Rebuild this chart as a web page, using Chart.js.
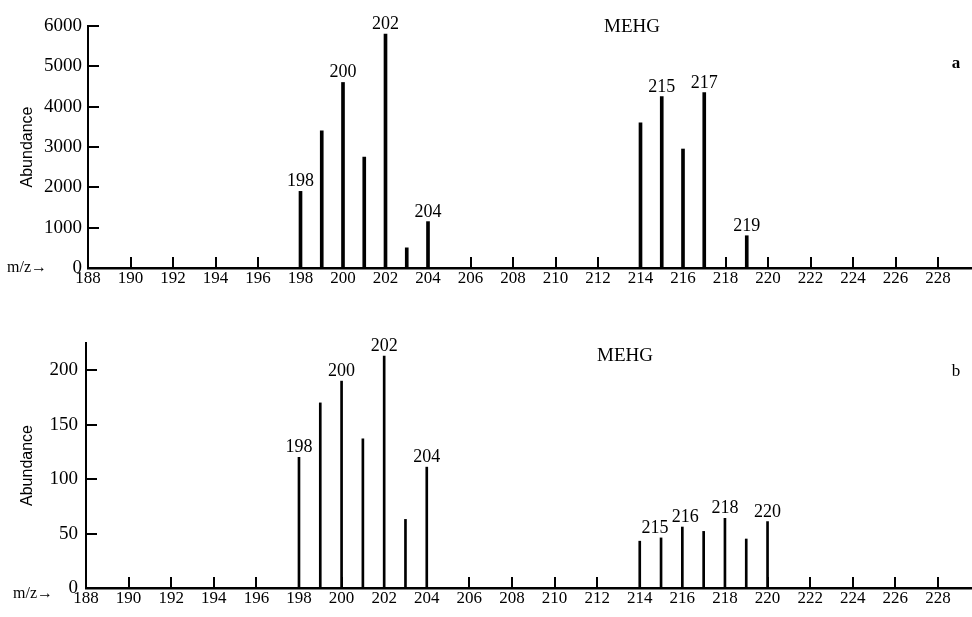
<!DOCTYPE html>
<html><head><meta charset="utf-8">
<script src="https://cdn.jsdelivr.net/npm/chart.js@4.4.0/dist/chart.umd.min.js"></script>
<style>
html,body{margin:0;padding:0;background:#fff;}
#wrap{position:relative;width:972px;height:617px;overflow:hidden;background:#fff;}
canvas{position:absolute;left:0;}
#c1{top:0;} #c2{top:300px;}
</style></head><body>
<div id="wrap"><canvas id="c1" width="972" height="300"></canvas><canvas id="c2" width="972" height="317"></canvas></div>
<script>
// ---- data ----
const mzTicks = [188,190,192,194,196,198,200,202,204,206,208,210,212,214,216,218,220,222,224,226,228];

const mzA = [198,199,200,201,202,203,204,214,215,216,217,219];
const abundanceA = [1900,3400,4600,2750,5800,500,1150,3600,4250,2950,4350,800];
const labeledA = [198,200,202,204,215,217,219];
const yTicksA = [0,1000,2000,3000,4000,5000,6000];

const mzB = [198,199,200,201,202,203,204,214,215,216,217,218,219,220];
const abundanceB = [120,170,190,137,213,63,111,43,46,56,52,64,45,61];
const labeledB = [198,200,202,204,215,216,218,220];
const yTicksB = [0,50,100,150,200];

const SERIF = '"Liberation Serif", "Times New Roman", serif';
const SANS = '"Liberation Sans", Arial, sans-serif';

const deco = {
  id: 'deco',
  afterDatasetsDraw(chart, args, o) {
    const {ctx, chartArea: ca, scales: {x, y}} = chart;
    ctx.save();
    ctx.strokeStyle = '#000'; ctx.fillStyle = '#000'; ctx.lineWidth = 2;
    ctx.beginPath();
    mzTicks.forEach(v => {
      if (v === mzTicks[0]) return;
      const px = Math.round(x.getPixelForValue(v));
      ctx.moveTo(px, ca.bottom); ctx.lineTo(px, ca.bottom - 11);
    });
    o.yMarks.forEach(v => {
      if (v === 0) return;
      const py = Math.round(y.getPixelForValue(v));
      ctx.moveTo(ca.left, py); ctx.lineTo(ca.left + 11, py);
    });
    ctx.stroke();
    // peak labels
    ctx.font = '18px ' + SERIF; ctx.textAlign = 'center'; ctx.textBaseline = 'alphabetic';
    const meta = chart.getDatasetMeta(0);
    const data = chart.data.datasets[0].data;
    o.labeled.forEach(v => {
      const i = data.findIndex(d => d.x === v);
      const el = meta.data[i];
      ctx.fillText(String(v), el.x + ((o.dx && o.dx[v]) || 0), el.y - 5);
    });
    // compound name
    ctx.font = '19px ' + SERIF; ctx.textBaseline = 'middle';
    ctx.fillText('MEHG', o.nameX, o.nameY);
    ctx.font = o.panelFont + ' ' + SERIF;
    ctx.fillText(o.panel, o.panelX, o.panelY);
    ctx.font = '16px ' + SERIF; ctx.textAlign = 'left';
    ctx.fillText('m/z\u2192', o.mzX, ca.bottom + o.mzDy);
    ctx.restore();
  }
};

function makeChart(id, mz, vals, yTicks, ymax, labeled, thick, opts) {
  return new Chart(document.getElementById(id), {
    type: 'bar',
    data: { datasets: [{ data: mz.map((m, i) => ({x: m, y: vals[i]})), backgroundColor: '#000', borderWidth: 0, barThickness: thick }] },
    plugins: [deco],
    options: {
      responsive: false, animation: false, devicePixelRatio: 1, events: [],
      layout: { padding: { top: opts.padTop, left: 0, right: 0, bottom: 0 } },
      plugins: {
        legend: { display: false }, tooltip: { enabled: false },
        deco: Object.assign({ yMarks: yTicks, labeled: labeled }, opts.deco)
      },
      scales: {
        x: {
          type: 'linear', min: 188, max: 229.6, offset: false,
          grid: { display: false, drawTicks: false },
          border: { display: true, color: '#000', width: 2.5 },
          ticks: { color: '#000', font: { family: SERIF, size: 17 }, padding: 0, maxRotation: 0, autoSkip: false, includeBounds: false, callback: v => String(v) },
          afterBuildTicks: s => { s.ticks = mzTicks.map(v => ({ value: v })); },
          afterFit: s => { s.height = opts.xH; }
        },
        y: {
          min: 0, max: ymax,
          grid: { display: false, drawTicks: false },
          border: { display: true, color: '#000', width: 2 },
          ticks: { color: '#000', font: { family: SERIF, size: 19 }, padding: opts.yPad, includeBounds: false, callback: v => String(v) },
          afterBuildTicks: s => { s.ticks = yTicks.map(v => ({ value: v })); },
          title: { display: true, text: 'Abundance', color: '#000', font: { family: SANS, size: 16 }, padding: { top: 18, bottom: 0 } },
          afterFit: s => { s.width = opts.yW; }
        }
      }
    }
  });
}

makeChart('c1', mzA, abundanceA, yTicksA, 6000, labeledA, 3, {
  padTop: 26, xH: 32, yW: 88, yPad: 6,
  deco: { nameX: 632, nameY: 27, panel: 'a', panelFont: 'bold 17px', panelX: 956, panelY: 64, mzX: 7, mzDy: 0 }
});
makeChart('c2', mzB, abundanceB, yTicksB, 225, labeledB, 2, {
  padTop: 43, xH: 29, yW: 86, yPad: 8,
  deco: { nameX: 625, nameY: 56, panel: 'b', panelFont: '17px', panelX: 956, panelY: 72, mzX: 13, mzDy: 6, dx: { 215: -6, 216: 3 } }
});
</script>
</body></html>
